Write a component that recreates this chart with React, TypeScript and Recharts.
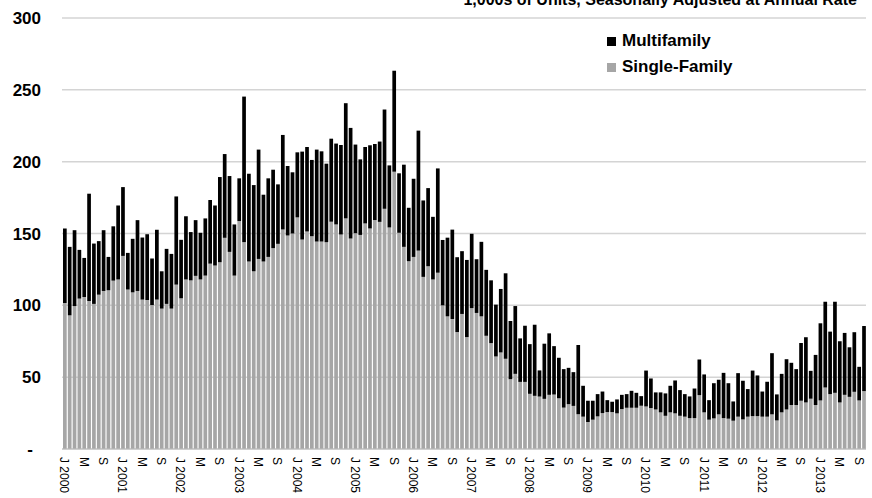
import React from "react";
import { BarChart, Bar, XAxis, YAxis, CartesianGrid } from "recharts";

// monthly, Jan 2000 - Oct 2013, 1,000s of units SAAR
const years = [2000, 2001, 2002, 2003, 2004, 2005, 2006, 2007, 2008, 2009, 2010, 2011, 2012, 2013];
const monthLetters = ["J", "F", "M", "A", "M", "J", "J", "A", "S", "O", "N", "D"];

const singleFamily = [
  101.6, 93, 99.5, 104.7, 105.8, 103, 101, 107.4, 110, 110.5, 117.2, 118,
  134.4, 111, 109, 110, 104, 103.7, 100.2, 104, 97.7, 101, 97.7, 114.4,
  104.9, 118, 117.4, 120.5, 118, 120.7, 129, 127.7, 130, 147, 137.2, 120.7,
  158.6, 144, 130.5, 123.7, 132.3, 130.5, 133.7, 139.8, 142.8, 152.8, 148.6, 150,
  161.2, 145.8, 151.4, 148.1, 144.4, 144.4, 144, 158.2, 156.3, 149.3, 160.5, 146.5,
  150.2, 149, 157, 153.5, 159.3, 158.1, 167.2, 154.2, 193, 150.5, 140.7, 130.7,
  133.7, 138.1, 119.8, 127.2, 118, 122.7, 100, 92.3, 90.5, 81.4, 94, 77.9,
  98.1, 94.7, 92.3, 78.8, 73.7, 64.4, 67.2, 62.8, 48.6, 52.3, 46.7, 46.7,
  38.4, 37, 36.5, 34.9, 37.7, 37.9, 35.3, 28.8, 31.2, 30, 24.2, 22.5,
  18.8, 20.4, 22.7, 25, 25.7, 25.7, 24.8, 27.8, 28.7, 28.7, 28.7, 30.1,
  29.6, 28.5, 27.5, 25.5, 23.1, 25.5, 24.8, 23.1, 22.5, 21.5, 21.5, 37.5,
  25.5, 20.4, 21.3, 24.1, 21.5, 21.1, 19.7, 22.5, 20.6, 22.5, 22.9, 22.9,
  22.5, 22.5, 24.1, 19.9, 25.5, 27.5, 30.6, 30.6, 33.6, 32.4, 35, 30.6,
  33.8, 42.8, 38.2, 39.1, 32.4, 37.7, 36.3, 39.8, 33.8, 40.3,
];

const multifamily = [
  51.9, 47.7, 52.8, 33.9, 27.2, 74.7, 42, 37.3, 42.3, 23.2, 37.8, 51.5,
  47.9, 25.5, 37.3, 49.3, 43.2, 45.8, 32.4, 48.6, 26, 38.3, 38.1, 61.4,
  40.7, 44, 33.6, 38.8, 32.5, 39.8, 44.3, 41.8, 59.3, 58.3, 52.8, 35.6,
  29.8, 101.3, 61.1, 60, 76.1, 46.5, 54.7, 54.6, 41.4, 65.8, 48.4, 42.6,
  45.3, 61.2, 58.8, 53.1, 64, 62.8, 54.6, 57.8, 56.3, 62.3, 80.2, 77,
  61.7, 52.6, 53.2, 57.9, 53, 55.9, 69.1, 43.2, 70.3, 41.4, 57.2, 37.2,
  54.4, 83.5, 53.2, 54.4, 43.6, 72.6, 45.5, 54.8, 62.2, 52.1, 43.7, 53.7,
  51.7, 37.4, 51.9, 45.9, 43.7, 36.1, 44.2, 59.5, 40.5, 47.2, 30.3, 39.1,
  34.6, 49.5, 18.2, 38.4, 42.8, 33.7, 28.2, 26.8, 25.3, 23.5, 48.2, 21.5,
  14.8, 13.2, 15.5, 15, 8.3, 7.2, 9.7, 9.9, 9.5, 11.8, 10.4, 6.7,
  25, 20.6, 11.9, 13.9, 15.6, 18.5, 22.9, 17.9, 15.7, 15.1, 20.6, 24.8,
  26.4, 13.6, 24.5, 24.1, 31.5, 24.7, 13.4, 30.3, 26.9, 19.2, 31.7, 28.3,
  17.5, 24.3, 42.6, 18.1, 26.8, 35, 29.4, 25, 40.2, 45.4, 19.4, 34.9,
  53.7, 59.7, 43.5, 63.4, 42.6, 43.1, 34.5, 41.5, 23.4, 45.3,
];

const yTicks = [0, 50, 100, 150, 200, 250, 300];

const data = singleFamily.map((sf, i) => {
  const year = years[Math.floor(i / 12)];
  const m = i % 12;
  return {
    key: `${year}-${m + 1}`,
    label: m === 0 ? `J ${year}` : monthLetters[m],
    single: sf,
    multi: multifamily[i],
  };
});

const labelByKey: Record<string, string> = {};
data.forEach((d) => (labelByKey[d.key] = d.label));

const FONT = "'Liberation Sans', Arial, sans-serif";

// axis sits at y=449, labels start just under it
const XTick = (props: any) => {
  const { x, payload } = props;
  const label = labelByKey[payload.value];
  if (!label) return null;
  return (
    <text
      x={0}
      y={0}
      dy="0.35em"
      transform={`translate(${x},457) rotate(90)`}
      textAnchor="start"
      fontSize={12}
      fontFamily={FONT}
      fill="#000"
    >
      {label}
    </text>
  );
};

const YTick = (props: any) => {
  const { y, payload } = props;
  const v = payload.value;
  return (
    <text
      x={v === 0 ? 33 : 41}
      y={y}
      dy={6}
      textAnchor="end"
      fontSize={17}
      fontWeight="bold"
      fontFamily={FONT}
      fill="#000"
    >
      {v === 0 ? "-" : v}
    </text>
  );
};

const LegendBox = () => (
  <div
    style={{
      position: "absolute",
      left: 607,
      top: 28,
      fontFamily: FONT,
      fontWeight: "bold",
      fontSize: 17,
      lineHeight: "26px",
      zIndex: 2,
    }}
  >
    <div style={{ display: "flex", alignItems: "center" }}>
      <span style={{ width: 9, height: 9, background: "#000", marginRight: 6, display: "inline-block" }} />
      Multifamily
    </div>
    <div style={{ display: "flex", alignItems: "center" }}>
      <span style={{ width: 9, height: 9, background: "#a6a6a6", marginRight: 6, display: "inline-block" }} />
      Single-Family
    </div>
  </div>
);

export default function App() {
  return (
    <div style={{ position: "relative", width: 872, height: 498, overflow: "hidden", background: "#fff" }}>
      <style>{"body{margin:0}"}</style>
      <svg width={872} height={20} style={{ position: "absolute", left: 0, top: 0, zIndex: 2 }}>
        <text x={857} y={5} textAnchor="end" fontSize={16} fontWeight="bold" fontFamily={FONT} fill="#000">
          1,000s of Units, Seasonally Adjusted at Annual Rate
        </text>
      </svg>
      <LegendBox />
      <BarChart
        width={872}
        height={498}
        data={data}
        margin={{ top: 18, right: 6, bottom: 0, left: 0 }}
      >
        <CartesianGrid vertical={false} stroke="#d4d4d4" strokeWidth={1.5} />
        <XAxis
          dataKey="key"
          interval={3}
          tick={<XTick />}
          tickLine={false}
          axisLine={{ stroke: "#bfbfbf" }}
          height={49}
        />
        <YAxis
          width={62}
          domain={[0, 300]}
          ticks={yTicks}
          tick={<YTick />}
          tickLine={false}
          axisLine={false}
        />
        <Bar dataKey="single" stackId="a" fill="#a6a6a6" barSize={3.7} isAnimationActive={false} />
        <Bar dataKey="multi" stackId="a" fill="#000000" barSize={3.7} isAnimationActive={false} />
      </BarChart>
    </div>
  );
}
